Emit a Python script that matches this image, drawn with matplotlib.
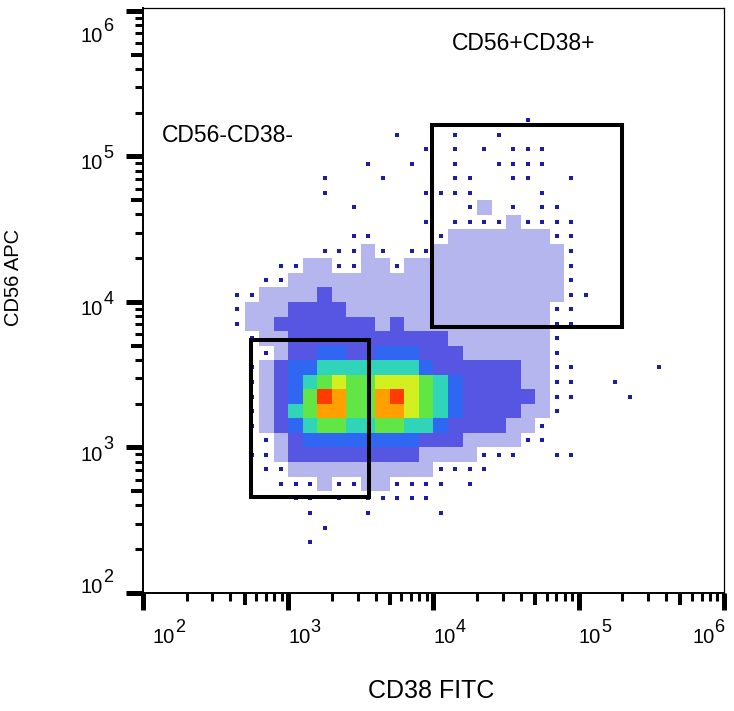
import numpy as np
import matplotlib
matplotlib.use("Agg")
import matplotlib.pyplot as plt
from matplotlib.colors import ListedColormap, BoundaryNorm
from matplotlib.patches import Rectangle
from matplotlib.ticker import LogLocator, FixedLocator, NullLocator, NullFormatter

plt.rcParams['font.family'] = ['Liberation Sans', 'DejaVu Sans']

# Density of events, in 0.1-decade bins.
# Columns: log10 CD38 FITC from 2.5 to 5.6 ; rows: log10 CD56 APC, top row = 5.3-5.4
# Levels: 0 empty, 1 single events, 2 sparse, 3 dense blue, 4 blue/cyan,
#         5 cyan, 6 green, 7 yellow, 8 orange, 9 red
cd38_edges_log = np.round(np.arange(2.5, 5.65, 0.1), 2)
cd56_edges_log = np.round(np.arange(2.2, 5.45, 0.1), 2)
density_rows = [
    "00000 00000 00000 00000 00000 00000 0",  # 5.3
    "00000 00000 00000 00000 01000 00000 0",  # 5.2
    "00000 00000 00100 01001 00000 00000 0",  # 5.1
    "00000 00000 00001 01010 11100 00000 0",  # 5.0
    "00000 00000 10010 01001 11100 00000 0",  # 4.9
    "00000 00100 01000 01100 11001 00000 0",  # 4.8
    "00000 00100 00001 11100 00100 00000 0",  # 4.7
    "00000 00001 00000 00120 10110 00000 0",  # 4.6
    "00000 00000 00001 01111 21111 00000 0",  # 4.5
    "00000 00001 10000 12222 22211 00000 0",  # 4.4
    "00000 00111 21011 22222 22221 00000 0",  # 4.3
    "00001 12211 22122 22222 22221 00000 0",  # 4.2
    "00011 22222 22222 22222 22221 00000 0",  # 4.1
    "01122 22322 22222 22222 22221 10000 0",  # 4.0
    "01222 33332 22222 22222 22211 00000 0",  # 3.9
    "01223 33333 32322 22222 22211 00000 0",  # 3.8
    "00122 33333 33333 32222 22210 00000 0",  # 3.7
    "00012 33443 34443 33222 22210 00000 0",  # 3.6
    "00123 44555 55554 33333 32211 00000 1",  # 3.5
    "00123 45676 67776 54333 32211 00100 0",  # 3.4
    "00123 46986 68976 54333 33211 00010 0",  # 3.3
    "00123 56886 68876 54333 32210 00000 0",  # 3.2
    "00123 45665 56655 43333 22100 00000 0",  # 3.1
    "00012 34444 44443 33222 21100 00000 0",  # 3.0
    "00112 33333 33332 22211 10011 00000 0",  # 2.9
    "00011 22222 22222 11110 00000 00000 0",  # 2.8
    "00001 11211 22111 10100 00000 00000 0",  # 2.7
    "00000 11010 11111 00000 00000 00000 0",  # 2.6
    "00000 01000 10000 10000 00000 00000 0",  # 2.5
    "00000 00100 00000 00000 00000 00000 0",  # 2.4
    "00000 01000 00000 00000 00000 00000 0",  # 2.3
    "00000 00000 00000 00000 00000 00000 0",  # 2.2
]
level_colors = ['#ffffff', '#1c1ca8', '#b6b6ee', '#5656e2', '#2f66f2',
                '#30d4b8', '#62e646', '#d2f020', '#ffa000', '#ff3c00']

# gates (CD38 range, CD56 range)
gate_names = ["CD56+CD38+", "CD56-CD38-"]
gate_cd38 = [(9.8e3, 2.0e5), (5.5e2, 3.6e3)]
gate_cd56 = [(6.7e3, 1.64e5), (4.6e2, 5.5e3)]

decades = [2, 3, 4, 5, 6]

density = np.array([[int(c) for c in row.replace(" ", "")] for row in density_rows])[::-1]
x_edges = 10.0 ** cd38_edges_log
y_edges = 10.0 ** cd56_edges_log

fig = plt.figure(figsize=(7.34, 7.11), dpi=100)
ax = fig.add_axes([143 / 734, 1 - 593 / 711, 581 / 734, 585 / 711])
ax.set_xscale('log')
ax.set_yscale('log')

# dense cells
cmap = ListedColormap(level_colors)
norm = BoundaryNorm(np.arange(-0.5, 10.5, 1), cmap.N)
dense = np.ma.masked_less(density, 2)
ax.pcolormesh(x_edges, y_edges, dense, cmap=cmap, norm=norm,
              edgecolors='none', antialiased=False, zorder=1)

# single events drawn as dots at bin centres
xc = 10.0 ** ((cd38_edges_log[:-1] + cd38_edges_log[1:]) / 2)
yc = 10.0 ** ((cd56_edges_log[:-1] + cd56_edges_log[1:]) / 2)
rows, cols = np.nonzero(density == 1)
ax.plot(xc[cols], yc[rows], 's', color=level_colors[1], markersize=2.4,
        markeredgewidth=0, zorder=2)

# gates
for name, (x0, x1), (y0, y1) in zip(gate_names, gate_cd38, gate_cd56):
    ax.add_patch(Rectangle((x0, y0), x1 - x0, y1 - y0, fill=False,
                           edgecolor='black', linewidth=2.9, joinstyle='miter', zorder=3))

ax.text(1.34e4, 6.0e5, gate_names[0], fontsize=16.5, ha='left', va='center')
ax.text(1.35e2, 1.40e5, gate_names[1], fontsize=16.5, ha='left', va='center')

ax.set_xlim(1e2, 1e6)
ax.set_ylim(1e2, 10 ** 6.02)

# ticks
for axis in (ax.xaxis, ax.yaxis):
    axis.set_major_locator(FixedLocator([10.0 ** d for d in decades]))
    axis.set_minor_locator(LogLocator(base=10, subs=[2, 3, 4, 6, 7, 8, 9], numticks=30))
    axis.set_major_formatter(NullFormatter())
    axis.set_minor_formatter(NullFormatter())
ax.tick_params(which='major', direction='out', length=12, width=3.6, color='black')
ax.tick_params(which='minor', direction='out', length=5.8, width=2.2, color='black')

mids = [5 * 10.0 ** d for d in decades[:-1]]
sx = ax.secondary_xaxis('bottom')
sx.set_xticks(mids)
sx.xaxis.set_minor_locator(NullLocator())
sx.xaxis.set_major_formatter(NullFormatter())
sx.tick_params(length=8.6, width=2.9)
sx.spines['bottom'].set_visible(False)
sy = ax.secondary_yaxis('left')
sy.set_yticks(mids)
sy.yaxis.set_minor_locator(NullLocator())
sy.yaxis.set_major_formatter(NullFormatter())
sy.tick_params(length=8.6, width=2.9)
sy.spines['left'].set_visible(False)

for s in ('left', 'bottom'):
    ax.spines[s].set_linewidth(1.4)
for s in ('top', 'right'):
    ax.spines[s].set_linewidth(0.9)

# decade labels, 10 with superscript exponent
xt = ax.get_xaxis_transform()
for d in decades:
    off = {2: 7.2, 6: -23.0}.get(d, 0.0)
    ax.annotate("10", xy=(10.0 ** d, 0), xycoords=xt, xytext=(off, -36),
                textcoords='offset points', ha='left', va='baseline', fontsize=14.5)
    ax.annotate(str(d), xy=(10.0 ** d, 0), xycoords=xt, xytext=(off + 16.0, -28),
                textcoords='offset points', ha='left', va='baseline', fontsize=13)

yt = ax.get_yaxis_transform()
for d in decades:
    off = {2: 0.0, 6: -22.3}.get(d, -9.4)
    ax.annotate("10", xy=(0, 10.0 ** d), xycoords=yt, xytext=(-29.0, off),
                textcoords='offset points', ha='right', va='baseline', fontsize=14.5)
    ax.annotate(str(d), xy=(0, 10.0 ** d), xycoords=yt, xytext=(-28.6, off + 8),
                textcoords='offset points', ha='left', va='baseline', fontsize=13)

fig.text(431 / 734, 1 - 691 / 711, "CD38 FITC", fontsize=18, ha='center', va='center')
fig.text(14 / 734, 1 - 277 / 711, "CD56 APC", fontsize=14.5, ha='center', va='center',
         rotation=90)

fig.savefig("out.png", dpi=100)
